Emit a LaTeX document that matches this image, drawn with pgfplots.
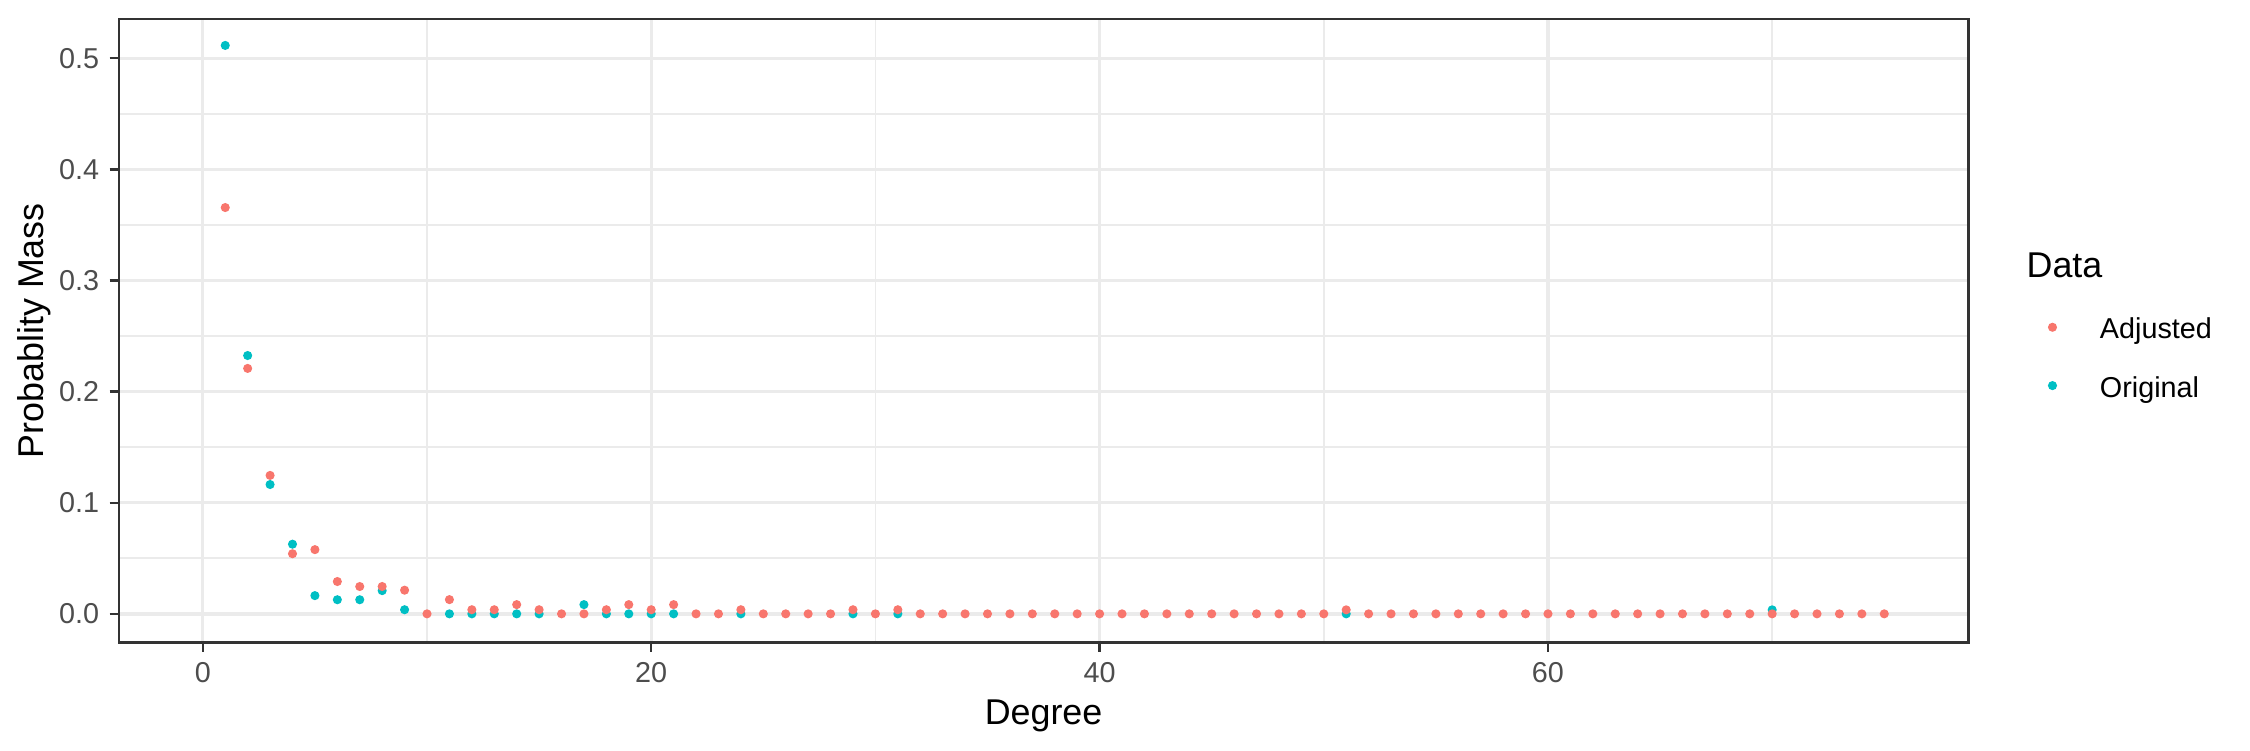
\documentclass[border=0pt]{standalone}
\usepackage{fontspec}
\setmainfont{Liberation Sans}
\usepackage{pgfplots}
\pgfplotsset{compat=1.18}
\definecolor{adj}{HTML}{F8766D}
\definecolor{orig}{HTML}{00BFC4}
\definecolor{grid92}{HTML}{EBEBEB}
\definecolor{grey20}{HTML}{333333}
\definecolor{grey30}{HTML}{4D4D4D}
\begin{document}
\begin{tikzpicture}
\useasboundingbox (0,0) rectangle (540pt,180pt);
\begin{axis}[
  at={(28.5pt,25.8pt)}, anchor=south west,
  scale only axis, width=443.9pt, height=149.7pt,
  xmin=-3.75, xmax=78.75, ymin=-0.0258, ymax=0.5356,
  xtick={0,20,40,60}, minor xtick={10,30,50,70},
  ytick={0,0.1,0.2,0.3,0.4,0.5}, yticklabels={0.0,0.1,0.2,0.3,0.4,0.5},
  minor ytick={0.05,0.15,0.25,0.35,0.45},
  grid=both,
  major grid style={draw=grid92, line width=0.8pt},
  minor grid style={draw=grid92, line width=0.4pt},
  axis line style={draw=grey20, line width=0.56pt},
  tick align=outside, major tick length=2.2pt, minor tick length=0pt,
  tick style={draw=grey20, line width=0.56pt},
  xtick pos=bottom, ytick pos=left,
  ticklabel style={font=\fontsize{6.9}{8}\selectfont, text=grey30},
  xticklabel style={anchor=north, inner sep=0pt, yshift=-2.35pt},
  yticklabel style={anchor=east, inner sep=0pt, xshift=-2.3pt},
  /pgf/number format/assume math mode=true,
  xlabel={Degree},
  xlabel style={at={(axis description cs:0.5,-0.1319)}, anchor=base, font=\fontsize{8.6}{10}\selectfont, inner sep=0pt},
  ylabel={Probablity Mass},
  ylabel style={at={(axis description cs:-0.0405,0.5)}, anchor=base, rotate=0, font=\fontsize{8.6}{10}\selectfont, inner sep=0pt},
  legend style={at={(axis description cs:1.04325,0.5201)}, anchor=north west, draw=none, fill=none,
    inner sep=0pt, outer sep=0pt, row sep=7.5pt, column sep=0pt,
    font=\fontsize{6.9}{8}\selectfont,
    nodes={inner sep=0pt, text height=5pt, text depth=1.5pt}},
  legend cell align=left,
  legend image code/.code={\path[draw=none, fill=none] (-1pt,-3.25pt) rectangle (11.4pt,3.25pt); \draw[#1] plot coordinates {(0pt,1.05pt)};},
  reverse legend,
]
\addplot[only marks, mark=*, mark size=0.88pt, color=orig, mark options={draw=none, fill=orig}] coordinates {
(1,0.5116) (2,0.2325) (3,0.1164) (4,0.0627) (5,0.0164) (6,0.0127) (7,0.0127) (8,0.0209) (9,0.0037)
(11,0) (12,0) (13,0) (14,0) (15,0) (17,0.0083) (18,0) (19,0) (20,0) (21,0)
(24,0) (29,0) (31,0) (51,0) (70,0.0036)
};
\addlegendentry{Original}
\addplot[only marks, mark=*, mark size=0.88pt, color=adj, mark options={draw=none, fill=adj}] coordinates {
(1,0.3657) (2,0.2209) (3,0.1246) (4,0.0541) (5,0.0578) (6,0.0291) (7,0.0246) (8,0.0246) (9,0.0213)
(10,0) (11,0.0128) (12,0.0037) (13,0.0037) (14,0.0083) (15,0.0037) (16,0) (17,0) (18,0.0037)
(19,0.0083) (20,0.0037) (21,0.0083) (22,0) (23,0) (24,0.0037) (25,0) (26,0) (27,0) (28,0)
(29,0.0037) (30,0) (31,0.0037) (32,0) (33,0) (34,0) (35,0) (36,0) (37,0) (38,0) (39,0)
(40,0) (41,0) (42,0) (43,0) (44,0) (45,0) (46,0) (47,0) (48,0) (49,0) (50,0)
(51,0.0036) (52,0) (53,0) (54,0) (55,0) (56,0) (57,0) (58,0) (59,0) (60,0)
(61,0) (62,0) (63,0) (64,0) (65,0) (66,0) (67,0) (68,0) (69,0) (70,0)
(71,0) (72,0) (73,0) (74,0) (75,0)
};
\addlegendentry{Adjusted}
\end{axis}
\node[anchor=base west, font=\fontsize{8.6}{10}\selectfont, inner sep=0pt] at (486.2pt,113.45pt) {Data};
\end{tikzpicture}
\end{document}
